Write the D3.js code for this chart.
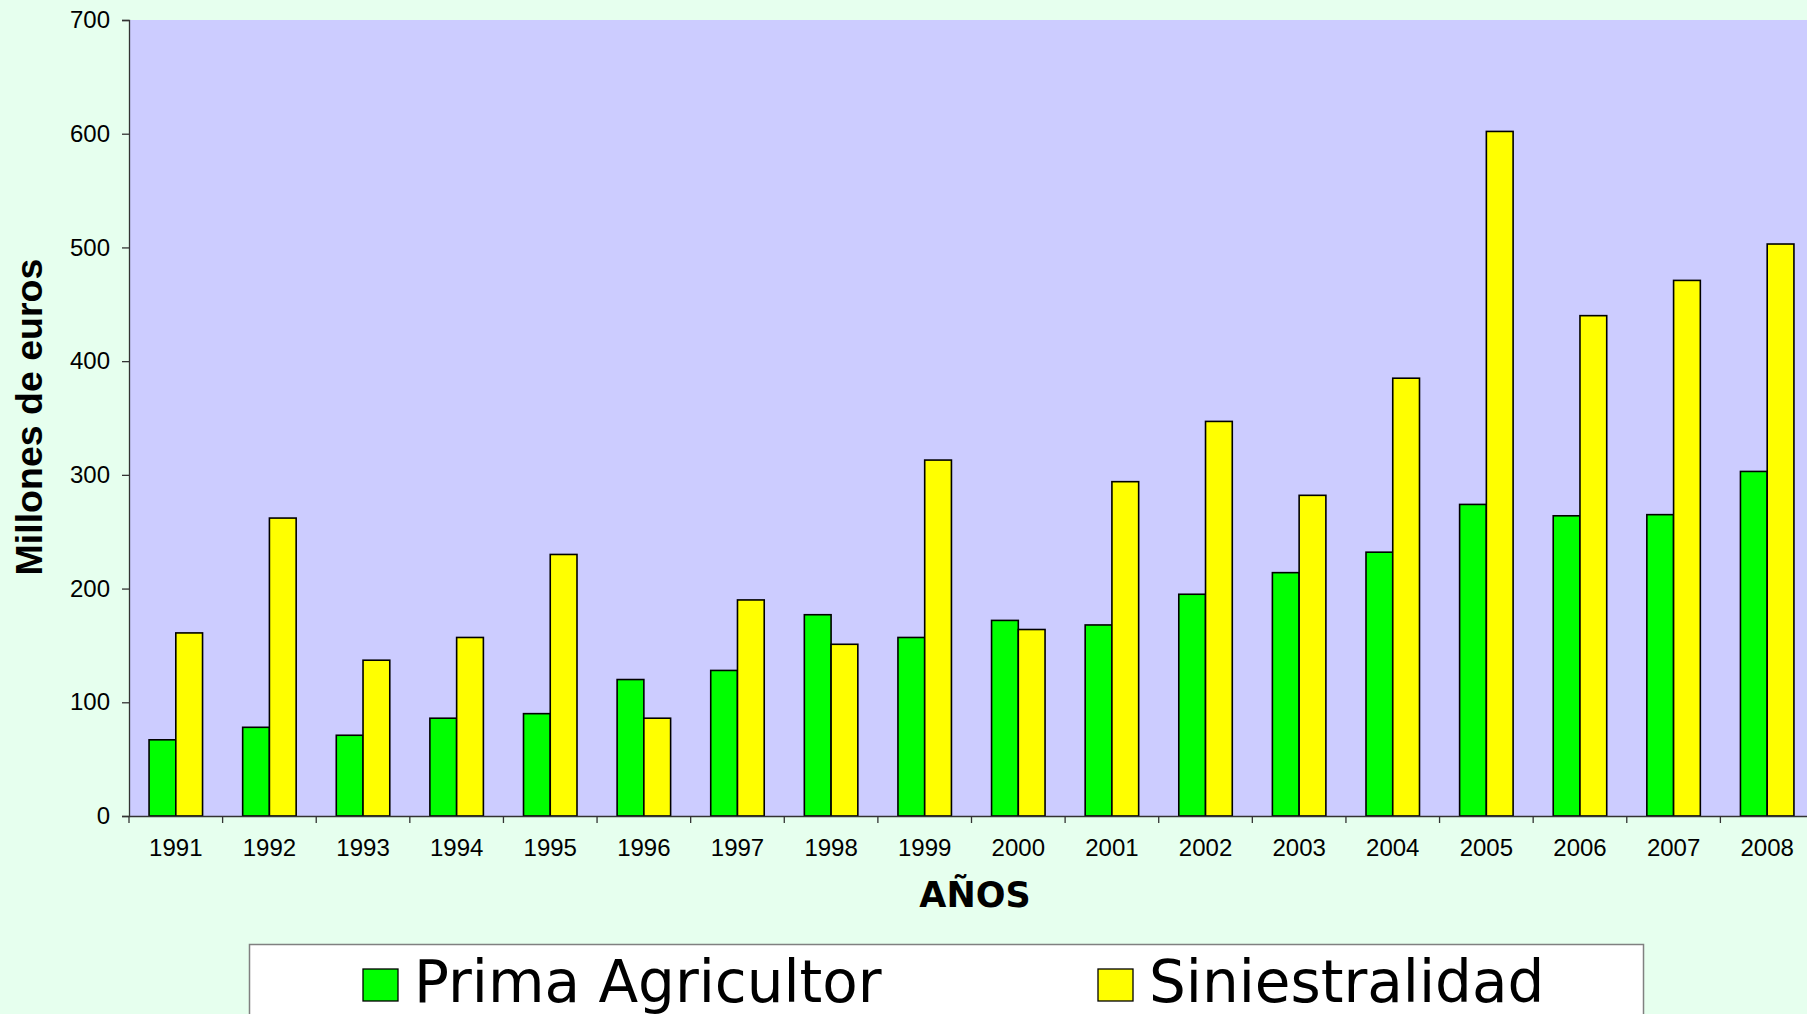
<!DOCTYPE html>
<html>
<head>
<meta charset="utf-8">
<script src="https://cdn.jsdelivr.net/npm/d3@7"></script>
<style>
  html, body { margin: 0; padding: 0; background: #e6ffee; overflow: hidden; }
  svg { display: block; }
</style>
</head>
<body>
<div id="svg-container"></div>
<script>
const years = ['1991', '1992', '1993', '1994', '1995', '1996', '1997', '1998', '1999',
  '2000', '2001', '2002', '2003', '2004', '2005', '2006', '2007', '2008'];
const seriesNames = ['Prima Agricultor', 'Siniestralidad'];
const seriesColors = ['#00ff00', '#ffff00'];
const prima = [67, 78, 71, 86, 90, 120, 128, 177, 157, 172, 168, 195, 214, 232, 274, 264, 265, 303];
const siniestralidad = [161, 262, 137, 157, 230, 86, 190, 151, 313, 164, 294, 347, 282, 385, 602, 440, 471, 503];
const yTicks = [0, 100, 200, 300, 400, 500, 600, 700];

const w = 1807;
const h = 1014;
const padding = {
  top: 20,
  left: 129,
  bottom: 816,
  right: 1814 };

const svg = d3.select('#svg-container').
append('svg').
attr('width', w).
attr('height', h);

svg.append('rect').
attr('width', w).
attr('height', h).
style('fill', '#e6ffee');

const xScale = d3.scaleBand().
domain(years).
range([padding.left, padding.right]);

const xInner = d3.scaleBand().
domain(seriesNames).
range([0, xScale.bandwidth()]).
paddingOuter(0.75);

const yScale = d3.scaleLinear().
domain([0, 700]).
range([padding.bottom, padding.top]);

const colorScale = d3.scaleOrdinal().
domain(seriesNames).
range(seriesColors);

// plot area
svg.append('rect').
attr('x', padding.left).
attr('y', padding.top).
attr('width', padding.right - padding.left).
attr('height', padding.bottom - padding.top).
style('fill', '#ccccff');

const rows = years.map(function (year, i) {
  return { year: year, values: [prima[i], siniestralidad[i]] };
});

svg.append('g').
selectAll('g').
data(rows).
enter().
append('g').
attr('transform', d => 'translate(' + xScale(d.year) + ',0)').
selectAll('rect').
data(d => d.values.map(function (v, j) {
  return { name: seriesNames[j], value: v };
})).
enter().
append('rect').
attr('x', d => xInner(d.name)).
attr('y', d => yScale(d.value)).
attr('width', xInner.bandwidth()).
attr('height', d => yScale(0) - yScale(d.value)).
style('fill', d => colorScale(d.name)).
style('stroke', '#000').
style('stroke-width', 1.6);

// y axis
const yAxis = d3.axisLeft(yScale).
tickValues(yTicks).
tickSize(7).
tickPadding(12).
tickFormat(d3.format('d'));

const yG = svg.append('g').
attr('transform', 'translate(' + padding.left + ',0)').
call(yAxis);

yG.select('.domain').attr('stroke', '#333').attr('stroke-width', 1.3);
yG.selectAll('.tick line').attr('stroke', '#333').attr('stroke-width', 1.3);
yG.selectAll('.tick text').
style('font-family', '"Liberation Sans", Arial, sans-serif').
style('font-size', '24px').
style('fill', '#000');

// x axis
const xAxis = d3.axisBottom(xScale).
tickSize(0).
tickPadding(23);

const xG = svg.append('g').
attr('transform', 'translate(0,' + padding.bottom + ')').
call(xAxis);

xG.select('.domain').attr('stroke', '#333').attr('stroke-width', 1.3);
xG.selectAll('.tick text').
style('font-family', '"Liberation Sans", Arial, sans-serif').
style('font-size', '24px').
style('fill', '#000');

xG.selectAll('line.sep').
data(years).
enter().
append('line').
attr('class', 'sep').
attr('x1', d => xScale(d)).
attr('x2', d => xScale(d)).
attr('y1', 0).
attr('y2', 7).
attr('stroke', '#333').
attr('stroke-width', 1.3);

// axis titles
svg.append('text').
text('AÑOS').
attr('x', 975).
attr('y', 907).
attr('text-anchor', 'middle').
style('font-family', '"DejaVu Sans", Verdana, sans-serif').
style('font-weight', 'bold').
style('font-size', '35px').
style('fill', '#000');

svg.append('text').
text('Millones de euros').
attr('transform', 'translate(' + 42 + ',' + 417 + ') rotate(-90)').
attr('text-anchor', 'middle').
style('font-family', '"Liberation Sans", Arial, sans-serif').
style('font-weight', 'bold').
style('font-size', '37.5px').
style('fill', '#000');

// legend (cut off by the bottom edge, as in the original)
const legend = svg.append('g').
attr('id', 'legend');

legend.append('rect').
attr('x', 249.5).
attr('y', 944.5).
attr('width', 1394).
attr('height', 120).
style('fill', '#fff').
style('stroke', '#808080').
style('stroke-width', 1.5);

const legendX = [363, 1098];

const legendItem = legend.selectAll('g.item').
data(seriesNames).
enter().
append('g').
attr('class', 'item').
attr('transform', (d, i) => 'translate(' + legendX[i] + ',' + 969 + ')');

legendItem.append('rect').
attr('width', 35).
attr('height', 32).
style('fill', d => colorScale(d)).
style('stroke', '#000').
style('stroke-width', 1.3);

legendItem.append('text').
text(d => d).
attr('x', 51).
attr('y', 33).
style('font-family', '"DejaVu Sans", Verdana, sans-serif').
style('font-size', '58px').
style('fill', '#000');
</script>
</body>
</html>
